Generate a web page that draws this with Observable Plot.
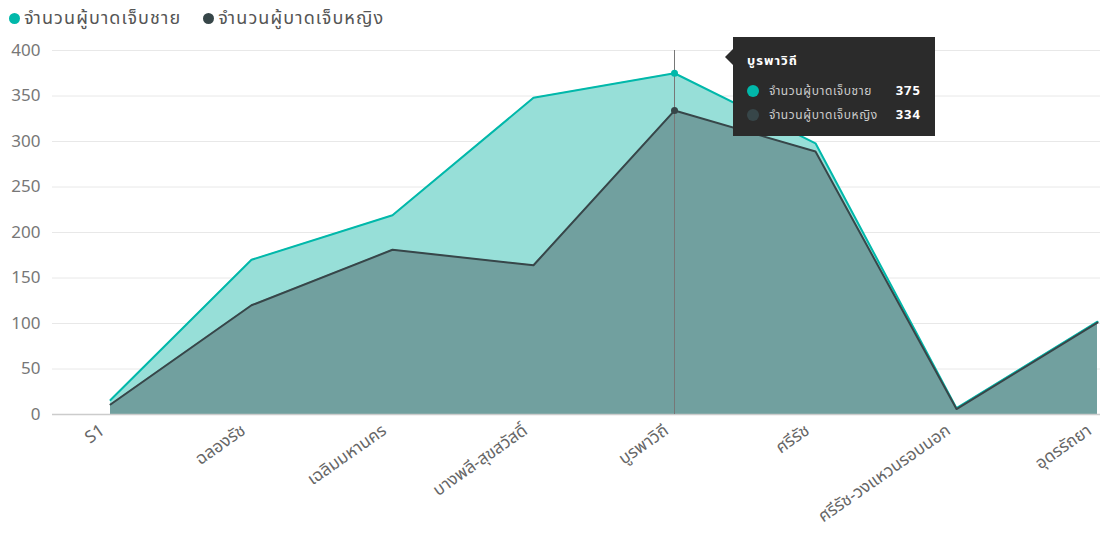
<!DOCTYPE html>
<html>
<head>
<meta charset="utf-8">
<script src="https://cdn.jsdelivr.net/npm/d3@7"></script>
<script src="https://cdn.jsdelivr.net/npm/@observablehq/plot@0.6"></script>
<style>
  html, body { margin: 0; padding: 0; background: #fff; }
  body { width: 1104px; height: 534px; overflow: hidden; position: relative;
         font-family: "Noto Sans Thai", "Segoe UI", "Noto Sans", "DejaVu Sans", sans-serif; }
  #legend { height: 36px; display: flex; align-items: center; padding-left: 9px; font-size: 18px; letter-spacing: 1.1px; color: #555; }
  #legend .item { display: flex; align-items: center; margin-right: 22px; }
  #legend .dot { width: 11px; height: 11px; border-radius: 50%; margin-right: 4px; }
  #tip { position: absolute; background: #2b2b2b; color: #fff; padding: 10px 14px 10px 14px; box-sizing: border-box; width: 202px; height: 99px; }
  #tip:before { content: ""; position: absolute; left: -8px; top: 12px; border-top: 8px solid transparent; border-bottom: 8px solid transparent; border-right: 8px solid #2b2b2b; }
  #tip .t { font-weight: bold; font-size: 13px; margin: 4px 0 8px 0; letter-spacing: 1px; }
  #tip .row { display: flex; align-items: center; height: 24px; font-size: 12px; color: #ccc; letter-spacing: 0.6px; }
  #tip .row .c { width: 12px; height: 12px; border-radius: 50%; margin-right: 10px; }
  #tip .row .l { flex: 1; }
  #tip .row .v { font-weight: bold; color: #fff; font-size: 13px; letter-spacing: 1px; }
</style>
</head>
<body>
<div id="legend"></div>
<div id="chart"></div>
<div id="tip"></div>
<script>
const categories = ["S1", "ฉลองรัช", "เฉลิมมหานคร", "บางพลี-สุขสวัสดิ์", "บูรพาวิถี", "ศรีรัช", "ศรีรัช-วงแหวนรอบนอก", "อุดรรัถยา"];
const maleValues = [16, 170, 219, 348, 375, 298, 7, 102];
const femaleValues = [11, 120, 181, 164, 334, 289, 6, 101];
const seriesNames = ["จำนวนผู้บาดเจ็บชาย", "จำนวนผู้บาดเจ็บหญิง"];
const seriesColors = ["#01B8AA", "#374649"];
const yTicks = [0, 50, 100, 150, 200, 250, 300, 350, 400];
const highlighted = "บูรพาวิถี";

const male = categories.map((c, i) => ({cat: c, v: maleValues[i]}));
const female = categories.map((c, i) => ({cat: c, v: femaleValues[i]}));
const hi = categories.indexOf(highlighted);

// Legend
const legend = document.getElementById("legend");
seriesNames.forEach((n, i) => {
  const it = document.createElement("div");
  it.className = "item";
  it.innerHTML = `<span class="dot" style="background:${seriesColors[i]}"></span><span>${n}</span>`;
  legend.appendChild(it);
});

const chart = Plot.plot({
  width: 1104,
  height: 498,
  marginTop: 14,
  marginBottom: 120,
  marginLeft: 52,
  marginRight: 4,
  style: {fontFamily: "'Noto Sans Thai', 'Segoe UI', 'Noto Sans', 'DejaVu Sans', sans-serif", background: "#fff"},
  x: {type: "point", domain: categories, range: [109, 1098], padding: 0, label: null},
  y: {domain: [0, 400], label: null},
  marks: [
    Plot.gridY(yTicks, {stroke: "#e8e8e8", strokeOpacity: 1}),
    Plot.axisY(yTicks, {tickSize: 0, tickPadding: 12, fontSize: 17, color: "#777", label: null}),
    Plot.axisX(categories, {tickSize: 0, tickPadding: 14, dx: -8, tickRotate: -35, fontSize: 17, color: "#666", label: null, style: {letterSpacing: "1.2px"}}),
    Plot.areaY(male, {x: "cat", y: "v", fill: "#97dfd8"}),
    Plot.areaY(female, {x: "cat", y: "v", fill: "#71a09f"}),
    Plot.ruleY([0], {stroke: "#ccc", strokeWidth: 1.5}),
    Plot.ruleX([highlighted], {y1: 0, y2: 400, stroke: "#777", strokeWidth: 1}),
    Plot.line(male, {x: "cat", y: "v", stroke: seriesColors[0], strokeWidth: 2}),
    Plot.line(female, {x: "cat", y: "v", stroke: seriesColors[1], strokeWidth: 2}),
    Plot.dot([male[hi]], {x: "cat", y: "v", r: 3.5, fill: seriesColors[0]}),
    Plot.dot([female[hi]], {x: "cat", y: "v", r: 3.5, fill: seriesColors[1]})
  ]
});
document.getElementById("chart").appendChild(chart);

// Tooltip positioned from the scales
const xs = chart.scale("x").apply(highlighted);
const ys = chart.scale("y").apply(400);
const tip = document.getElementById("tip");
tip.style.left = (xs + 59) + "px";
tip.style.top = (36 + ys - 13) + "px";
tip.innerHTML = `<div class="t">${highlighted}</div>` +
  seriesNames.map((n, i) => `<div class="row"><span class="c" style="background:${seriesColors[i]}"></span><span class="l">${n}</span><span class="v">${[maleValues, femaleValues][i][hi]}</span></div>`).join("");
</script>
</body>
</html>
